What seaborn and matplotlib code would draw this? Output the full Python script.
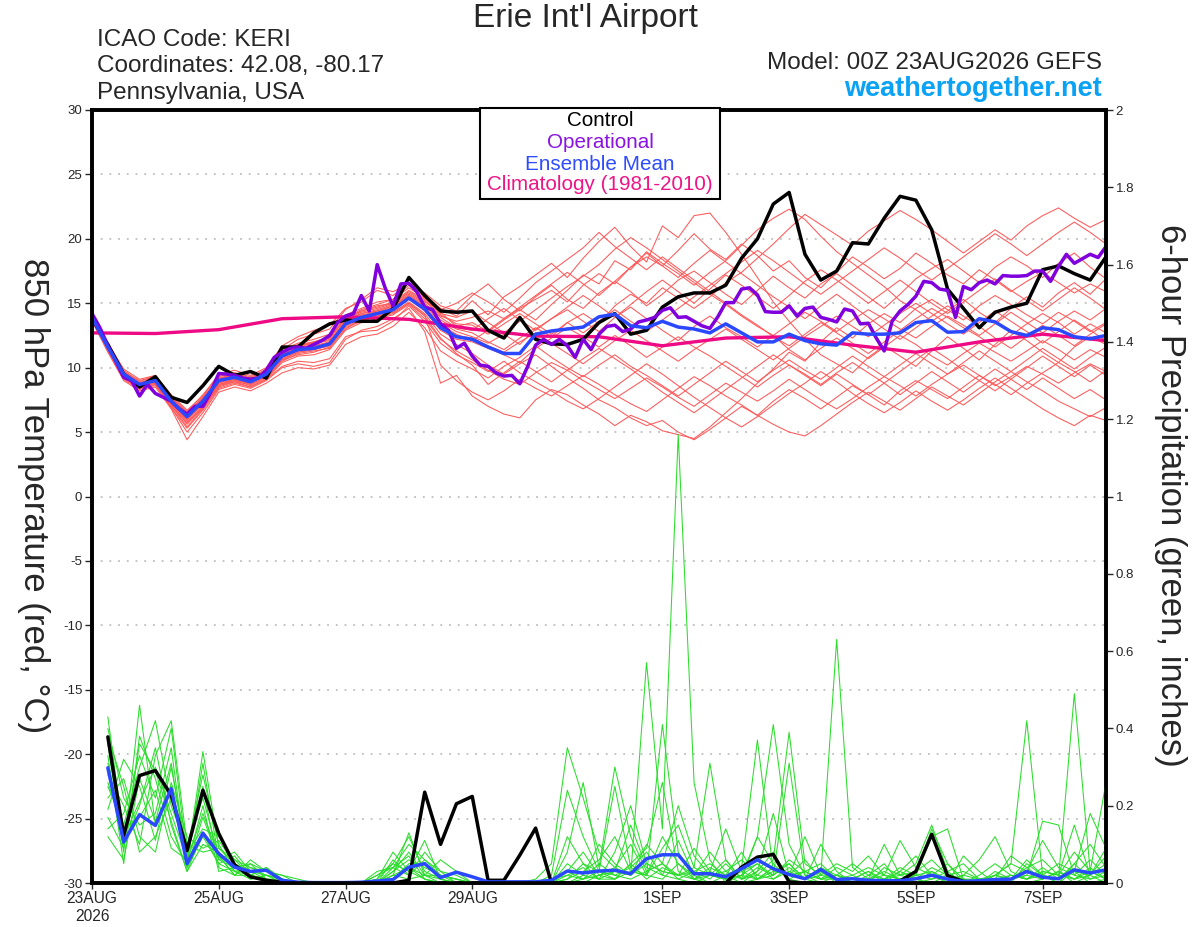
import numpy as np
import pandas as pd
import matplotlib
matplotlib.use("Agg")
import matplotlib.pyplot as plt
import seaborn as sns
from matplotlib.patches import Rectangle

# ---------------- data ----------------
hours6 = list(range(0, 385, 6))         # 65 points, 6-hourly
hours3 = list(range(0, 385, 3))         # 129 points, 3-hourly (operational)
hours_precip = list(range(6, 385, 6))   # 64 points
hours_clim = list(range(0, 385, 24))    # 17 points

control_temp = [13.8, 11.8, 9.5, 8.5, 9.3, 7.7, 7.3, 8.6, 10.1, 9.4,
                9.7, 9.2, 11.6, 11.6, 12.7, 13.4, 13.7, 13.6, 13.6, 14.6,
                17.0, 15.6, 14.4, 14.3, 14.4, 12.9, 12.3, 13.9, 12.2, 11.85,
                11.8, 12.2, 13.5, 14.2, 12.6, 12.9, 14.7, 15.5, 15.8, 15.8,
                16.4, 18.5, 20.0, 22.7, 23.6, 18.8, 16.8, 17.5, 19.7, 19.6,
                21.6, 23.3, 23.0, 20.7, 16.1, 14.6, 13.1, 14.3, 14.7, 15.0,
                17.6, 17.9, 17.3, 16.8, 18.6]

mean_temp = [13.9, 11.6, 9.5, 8.7, 9.0, 7.4, 6.2, 7.4, 9.0, 9.25,
             8.9, 9.5, 10.9, 11.4, 11.5, 11.85, 13.4, 13.9, 14.2, 14.5,
             15.4, 14.55, 13.1, 12.4, 12.2, 11.6, 11.1, 11.1, 12.6, 12.85,
             13.0, 13.15, 13.95, 14.15, 13.25, 13.1, 13.6, 13.15, 13.0, 12.7,
             13.4, 12.7, 12.0, 12.0, 12.6, 12.1, 11.85, 11.75, 12.7, 12.6,
             12.6, 12.7, 13.5, 13.65, 12.75, 12.8, 13.8, 13.55, 12.8, 12.5,
             13.1, 12.95, 12.4, 12.25, 12.5]

oper_temp = [14.2, 13.1, 11.7, 10.5, 9.25, 9.0, 7.8, 8.7, 8.0, 7.7,
             7.4, 6.8, 6.4, 7.0, 7.0, 8.1, 9.55, 9.5, 9.4, 9.2,
             9.1, 9.2, 9.8, 10.8, 11.2, 11.5, 11.6, 11.5, 11.8, 12.1,
             12.5, 13.5, 14.0, 14.2, 15.6, 14.4, 18.0, 16.2, 14.8, 16.5,
             16.55, 15.9, 14.7, 14.5, 13.4, 12.9, 11.5, 11.9, 10.9, 10.2,
             10.1, 9.6, 9.35, 9.4, 8.75, 10.1, 11.75, 12.2, 11.8, 12.2,
             11.7, 10.8, 12.2, 11.4, 12.6, 13.2, 13.3, 12.8, 13.0, 13.55,
             13.7, 13.9, 14.45, 14.65, 13.9, 13.95, 13.6, 13.25, 13.05, 13.95,
             15.05, 15.05, 16.1, 16.2, 15.65, 14.35, 14.3, 14.3, 14.8, 14.0,
             14.6, 14.7, 13.9, 13.75, 13.55, 14.55, 14.4, 13.4, 13.45, 12.3,
             11.3, 13.6, 14.4, 14.9, 15.55, 16.7, 16.6, 16.1, 16.0, 13.9,
             16.3, 16.05, 16.6, 16.8, 16.5, 17.15, 17.1, 17.1, 17.15, 17.5,
             17.5, 16.7, 17.85, 18.8, 18.1, 18.45, 18.8, 18.55, 19.4]

clim_temp = [12.7, 12.65, 12.95, 13.8, 13.95, 13.75, 13.0, 12.45, 12.4,
             11.7, 12.3, 12.4, 11.75, 11.2, 12.0, 12.6, 12.1]

temp_members = [
    [14.0, 11.8, 9.8, 8.9, 9.4, 7.8, 6.6, 7.9, 9.4, 9.6, 9.3, 9.8, 11.3, 11.8, 12.0, 12.3, 13.8, 14.4, 14.8, 15.0,
     15.9, 15.2, 14.0, 13.6, 13.9, 14.4, 13.8, 14.6, 15.3, 16.0, 15.1, 16.4, 17.3, 16.5, 17.8, 18.6, 17.9, 19.1, 20.4, 19.2,
     18.4, 19.6, 18.7, 17.5, 18.3, 17.0, 16.2, 17.4, 18.6, 17.8, 16.9, 17.7, 18.9, 18.1, 17.2, 16.5, 17.6, 16.8, 15.9, 16.7,
     17.4, 16.6, 15.8, 16.5, 15.9],
    [13.7, 11.4, 9.2, 8.4, 8.6, 7.0, 5.7, 6.9, 8.5, 8.9, 8.5, 9.1, 10.4, 10.9, 11.0, 11.4, 12.9, 13.5, 13.8, 14.1,
     14.9, 13.8, 12.2, 11.3, 10.6, 9.8, 9.1, 8.7, 9.6, 10.4, 9.8, 9.0, 8.3, 7.6, 8.4, 9.2, 8.5, 7.7, 7.0, 7.9,
     8.8, 8.1, 7.4, 8.2, 9.1, 8.3, 7.5, 6.8, 7.6, 8.5, 9.3, 8.6, 7.8, 8.7, 9.5, 10.2, 9.4, 8.6, 9.3, 10.1,
     9.5, 8.8, 9.6, 10.3, 9.7],
    [14.1, 11.7, 9.6, 8.8, 9.1, 7.3, 5.9, 7.2, 8.8, 9.3, 9.1, 9.7, 11.4, 12.2, 12.6, 13.0, 14.5, 15.3, 16.2, 15.9,
     16.5, 15.6, 14.6, 14.0, 15.2, 14.1, 15.5, 16.3, 17.2, 18.1, 17.0, 18.5, 19.8, 20.9, 19.4, 18.2, 21.0, 20.1, 21.8, 22.0,
     20.5, 18.8, 17.0, 15.1, 13.6, 12.2, 11.0, 10.3, 9.6, 10.8, 11.7, 10.9, 10.1, 11.3, 12.4, 11.5, 10.6, 11.8, 12.9, 12.1,
     11.2, 10.4, 11.6, 12.4, 11.8],
    [13.8, 11.5, 9.3, 8.5, 8.8, 6.9, 5.0, 6.5, 8.3, 8.7, 8.4, 9.0, 10.0, 10.3, 10.1, 10.4, 12.2, 12.9, 13.2, 13.8,
     14.6, 12.8, 8.8, 9.4, 7.8, 7.0, 6.4, 6.1, 7.5, 8.3, 7.9, 7.1, 6.4, 5.5, 6.3, 5.8, 5.1, 4.8, 4.5, 5.4,
     6.5, 7.6, 8.8, 9.9, 11.2, 10.5, 12.0, 13.1, 12.3, 13.4, 14.2, 13.5, 14.6, 15.3, 14.5, 13.7, 14.8, 15.6, 14.9, 14.1,
     13.4, 14.3, 13.6, 12.8, 13.5],
    [13.9, 11.6, 9.4, 8.6, 8.9, 7.5, 6.3, 7.6, 9.1, 9.5, 9.0, 9.4, 10.8, 11.3, 11.6, 12.0, 13.5, 14.1, 14.3, 14.7,
     15.5, 14.8, 13.5, 12.8, 12.4, 11.9, 12.6, 11.8, 13.0, 13.8, 14.5, 13.6, 12.8, 13.9, 14.7, 13.8, 12.9, 12.1, 13.2, 14.0,
     13.1, 12.4, 11.6, 12.5, 11.4, 10.6, 11.5, 12.3, 11.5, 10.7, 11.6, 12.5, 11.8, 10.9, 10.2, 11.1, 11.9, 11.2, 10.5, 11.3,
     12.1, 11.4, 10.6, 11.4, 10.8],
    [14.0, 11.9, 9.7, 9.0, 9.3, 7.6, 6.0, 7.1, 8.7, 9.0, 8.8, 9.5, 11.0, 11.5, 11.8, 12.2, 13.9, 14.5, 14.9, 15.3,
     16.2, 15.4, 14.3, 13.2, 13.5, 12.8, 13.7, 14.5, 13.7, 14.9, 16.0, 17.2, 16.5, 18.3, 17.6, 19.0, 18.1, 17.3, 16.4, 17.4,
     18.3, 19.5, 20.7, 21.6, 22.3, 21.5, 20.2, 19.0, 18.1, 17.2, 16.3, 15.2, 14.5, 13.6, 14.4, 15.3, 14.3, 13.5, 14.6, 15.5,
     14.7, 15.8, 16.6, 15.7, 16.9],
    [13.8, 11.3, 9.1, 8.3, 8.7, 7.1, 5.4, 6.8, 8.6, 9.0, 8.6, 9.2, 10.5, 11.1, 11.3, 11.5, 13.1, 13.6, 14.0, 14.3,
     15.1, 14.2, 12.6, 11.8, 11.1, 10.2, 9.5, 10.3, 11.0, 10.1, 9.2, 8.4, 7.5, 6.9, 6.1, 5.5, 5.9, 5.0, 4.4, 5.2,
     6.1, 7.0, 6.3, 7.4, 8.3, 7.6, 6.8, 7.7, 8.6, 7.9, 7.1, 8.2, 9.0, 8.3, 7.6, 8.5, 9.4, 8.7, 7.9, 8.8,
     9.6, 10.4, 9.7, 8.9, 9.8],
    [14.2, 11.9, 9.9, 9.1, 9.4, 7.9, 6.7, 7.8, 9.5, 9.8, 9.4, 10.0, 11.7, 12.4, 12.9, 13.3, 14.6, 15.1, 16.0, 15.6,
     16.6, 15.8, 14.8, 14.4, 15.6, 16.5, 15.3, 14.4, 15.5, 16.4, 15.3, 14.6, 15.8, 16.7, 15.9, 14.8, 15.7, 16.8, 17.5, 16.6,
     15.7, 14.9, 16.0, 17.1, 16.2, 15.4, 16.5, 17.3, 16.4, 15.5, 14.6, 15.7, 16.9, 17.7, 18.4, 17.5, 16.6, 17.8, 18.6, 17.9,
     17.0, 18.1, 18.9, 17.8, 16.9],
    [13.6, 11.2, 9.0, 8.2, 8.5, 6.8, 4.4, 6.2, 8.1, 8.5, 8.2, 8.8, 9.6, 10.0, 9.9, 10.2, 11.8, 12.4, 12.6, 13.2,
     14.3, 13.1, 11.3, 10.5, 9.9, 9.2, 10.1, 10.8, 11.7, 10.8, 10.0, 9.3, 10.2, 11.0, 10.1, 9.4, 8.6, 7.8, 8.7, 9.6,
     10.5, 9.7, 8.9, 9.8, 10.6, 9.8, 9.1, 10.0, 10.9, 10.1, 9.3, 10.2, 11.1, 10.3, 9.5, 10.4, 11.3, 10.5, 9.7, 10.6,
     11.5, 10.7, 9.9, 10.8, 11.6],
    [14.0, 11.7, 9.5, 8.7, 9.2, 7.6, 6.4, 7.5, 9.2, 9.4, 9.0, 9.6, 11.0, 11.6, 11.9, 12.1, 13.6, 14.0, 14.4, 14.8,
     15.6, 14.9, 13.7, 13.0, 12.7, 12.0, 11.4, 12.3, 13.1, 12.4, 13.5, 14.2, 13.4, 14.8, 15.7, 15.0, 16.2, 15.4, 14.6, 15.5,
     16.6, 17.4, 18.5, 19.6, 20.8, 21.9, 21.1, 20.3, 19.5, 20.6, 21.4, 22.2, 21.5, 20.7, 19.8, 18.9, 19.8, 20.7, 19.9, 21.0,
     21.8, 22.4, 21.6, 20.9, 21.5],
    [13.9, 11.5, 9.4, 8.6, 8.9, 7.3, 6.1, 7.4, 8.9, 9.2, 8.9, 9.5, 10.7, 11.2, 11.4, 11.7, 13.3, 13.8, 14.1, 14.4,
     15.3, 14.4, 12.9, 12.2, 12.0, 11.5, 11.0, 10.4, 11.5, 12.3, 13.1, 12.4, 11.6, 12.5, 11.7, 10.8, 11.6, 12.4, 11.6, 10.9,
     10.1, 9.3, 8.5, 9.4, 10.2, 9.5, 8.7, 9.6, 10.4, 9.6, 8.8, 7.9, 8.8, 9.7, 8.9, 8.1, 9.0, 9.9, 9.1, 8.3,
     9.2, 8.4, 7.6, 8.3, 7.5],
    [14.1, 11.8, 9.7, 8.8, 9.3, 7.7, 6.5, 7.7, 9.3, 9.6, 9.2, 9.9, 11.4, 11.9, 12.2, 12.6, 14.1, 14.6, 15.1, 15.3,
     16.4, 15.5, 14.2, 13.9, 14.4, 13.5, 12.7, 13.6, 14.5, 15.4, 16.3, 17.1, 18.0, 19.2, 20.1, 19.3, 18.4, 17.5, 16.6, 15.7,
     14.9, 14.0, 13.2, 12.5, 13.4, 14.3, 13.6, 12.8, 13.7, 14.5, 13.8, 13.0, 12.3, 13.2, 14.0, 13.3, 12.5, 13.4, 14.3, 13.5,
     12.7, 13.6, 14.4, 13.7, 14.6],
    [13.7, 11.4, 9.3, 8.5, 8.8, 7.2, 5.8, 7.0, 8.7, 9.1, 8.7, 9.3, 10.6, 11.0, 11.2, 11.6, 13.0, 13.7, 13.9, 14.2,
     15.0, 14.1, 10.2, 9.0, 8.1, 7.5, 8.2, 9.1, 8.4, 7.8, 8.6, 9.4, 8.7, 7.9, 7.2, 6.6, 7.5, 8.4, 9.3, 8.6,
     7.8, 7.1, 6.3, 5.6, 5.0, 4.7, 5.5, 6.4, 7.3, 8.1, 7.4, 6.7, 7.6, 8.5, 7.8, 7.1, 8.0, 8.9, 9.7, 8.9,
     8.2, 7.4, 6.8, 6.2, 6.9],
    [14.0, 11.6, 9.6, 8.8, 9.0, 7.4, 6.2, 7.3, 8.9, 9.3, 9.1, 9.7, 11.2, 11.7, 11.9, 12.3, 13.8, 14.3, 14.6, 15.0,
     15.8, 15.1, 14.5, 15.0, 15.8, 15.1, 14.3, 15.4, 16.6, 17.5, 18.4, 19.3, 20.5, 19.4, 18.5, 17.6, 18.6, 17.7, 16.8, 15.9,
     15.0, 14.1, 13.3, 12.4, 11.7, 12.6, 13.5, 12.7, 11.9, 11.1, 12.0, 12.9, 13.8, 14.6, 13.9, 13.1, 12.4, 11.6, 12.5, 13.4,
     14.2, 13.5, 12.6, 13.4, 12.7],
    [13.8, 11.6, 9.5, 8.6, 8.9, 7.2, 5.6, 6.9, 8.6, 8.9, 8.7, 9.3, 10.6, 11.2, 11.4, 11.7, 13.2, 13.7, 14.0, 14.3,
     15.0, 14.0, 12.3, 11.1, 10.2, 8.7, 9.6, 10.5, 9.7, 8.9, 9.8, 10.7, 11.5, 10.7, 9.9, 9.0, 8.1, 7.3, 6.5, 7.4,
     8.3, 9.2, 10.1, 11.0, 10.2, 9.4, 8.6, 9.5, 8.7, 7.9, 8.8, 9.7, 10.6, 11.5, 10.7, 9.8, 9.0, 8.2, 9.1, 10.0,
     10.9, 10.1, 9.3, 10.2, 9.4],
    [13.9, 11.7, 9.6, 8.7, 9.1, 7.5, 6.3, 7.5, 9.1, 9.4, 9.0, 9.6, 11.1, 11.5, 11.7, 12.0, 13.7, 14.2, 14.5, 14.9,
     15.7, 15.0, 13.9, 13.1, 12.9, 13.8, 14.6, 13.7, 12.9, 13.8, 14.7, 15.6, 14.8, 13.9, 14.9, 15.9, 16.8, 15.9, 15.0, 16.1,
     17.2, 16.4, 15.5, 14.6, 15.6, 16.7, 17.6, 16.8, 15.9, 15.0, 15.9, 16.8, 15.9, 15.0, 14.2, 15.1, 16.0, 16.9, 16.0, 15.2,
     14.4, 15.3, 16.2, 15.4, 14.5],
    [13.8, 11.5, 9.4, 8.6, 8.9, 7.3, 6.0, 7.2, 8.8, 9.1, 8.8, 9.4, 10.8, 11.3, 11.5, 11.9, 13.4, 13.9, 14.2, 14.6,
     15.4, 14.6, 13.2, 12.5, 12.3, 11.7, 11.2, 12.0, 12.7, 11.9, 11.1, 10.3, 11.2, 12.1, 12.9, 12.1, 11.3, 10.5, 11.4, 12.2,
     13.0, 12.2, 11.4, 10.6, 11.5, 12.4, 13.2, 14.0, 13.2, 12.4, 13.3, 14.2, 15.0, 14.2, 13.4, 12.6, 13.5, 14.4, 13.6, 12.8,
     11.9, 12.8, 13.7, 12.9, 12.1],
    [14.1, 11.6, 9.6, 8.7, 9.1, 7.6, 6.5, 7.6, 9.2, 9.5, 9.1, 9.7, 11.2, 11.7, 12.0, 12.4, 13.9, 14.4, 14.7, 15.1,
     16.0, 15.3, 14.1, 13.4, 13.3, 12.6, 13.4, 14.2, 13.4, 12.6, 13.5, 12.7, 13.6, 14.5, 13.6, 12.8, 13.7, 14.6, 15.5, 16.4,
     17.3, 18.2, 19.1, 18.3, 17.4, 16.5, 15.7, 16.6, 17.5, 18.4, 19.3, 18.5, 17.6, 16.8, 17.7, 18.6, 19.5, 20.4, 19.6, 18.7,
     19.6, 20.5, 21.3, 20.5, 19.6],
    [13.7, 11.4, 9.2, 8.4, 8.7, 6.9, 5.3, 6.7, 8.4, 8.8, 8.5, 9.1, 10.1, 10.5, 10.4, 10.7, 12.4, 12.8, 12.9, 13.6,
     14.8, 13.6, 11.9, 11.0, 10.4, 9.7, 10.5, 9.6, 8.9, 8.2, 7.4, 6.8, 7.6, 8.5, 9.4, 10.3, 9.5, 8.6, 7.7, 6.9,
     6.1, 5.4, 6.2, 7.1, 8.0, 8.8, 9.7, 8.9, 8.0, 7.2, 6.5, 7.3, 8.2, 7.4, 6.7, 7.5, 8.4, 9.2, 8.4, 7.6,
     6.8, 6.1, 5.5, 6.3, 5.9],
    [14.0, 11.7, 9.5, 8.8, 9.2, 7.5, 6.4, 7.6, 9.0, 9.3, 9.0, 9.6, 11.0, 11.4, 11.6, 11.9, 13.6, 14.2, 14.4, 14.8,
     15.6, 14.7, 13.3, 12.6, 12.1, 12.9, 13.8, 14.7, 15.6, 16.5, 17.4, 16.5, 15.6, 16.7, 17.8, 18.9, 17.9, 17.0, 18.1, 19.1,
     18.2, 17.3, 16.4, 15.5, 14.7, 13.8, 14.8, 15.7, 14.8, 13.9, 13.0, 12.2, 13.1, 14.0, 14.8, 14.0, 13.2, 12.3, 11.5, 12.4,
     13.3, 12.5, 11.7, 12.6, 13.4],
]

control_precip = [0.378, 0.123, 0.278, 0.291, 0.227, 0.084, 0.240, 0.128,
                  0.047, 0.016, 0.007, 0.002, 0, 0, 0, 0,
                  0, 0, 0, 0.007, 0.235, 0.100, 0.205, 0.224,
                  0.007, 0.007, 0.072, 0.142, 0, 0, 0, 0,
                  0, 0, 0, 0, 0, 0, 0, 0,
                  0.041, 0.067, 0.074, 0.003, 0, 0, 0, 0,
                  0, 0, 0.005, 0.030, 0.126, 0.019, 0.004, 0,
                  0, 0, 0, 0, 0, 0, 0, 0]

mean_precip = [0.298, 0.106, 0.177, 0.149, 0.244, 0.050, 0.129, 0.076,
               0.041, 0.030, 0.033, 0.007, 0.002, 0.001, 0.001, 0.001,
               0.002, 0.005, 0.009, 0.041, 0.050, 0.014, 0.028, 0.016,
               0.003, 0.003, 0.003, 0.003, 0.007, 0.031, 0.026, 0.031,
               0.033, 0.024, 0.063, 0.073, 0.073, 0.024, 0.024, 0.016,
               0.037, 0.060, 0.037, 0.022, 0.011, 0.035, 0.009, 0.011,
               0.007, 0.006, 0.006, 0.011, 0.020, 0.010, 0.004, 0.006,
               0.009, 0.010, 0.030, 0.015, 0.011, 0.034, 0.026, 0.034]

precip_members = [
    [0.43, 0.12, 0.21, 0.30, 0.18, 0.06, 0.34, 0.09, 0.05, 0.03, 0.02, 0.01, 0, 0, 0, 0,
     0, 0, 0.04, 0.10, 0.06, 0.02, 0.01, 0, 0, 0, 0, 0.01, 0.05, 0.35, 0.22, 0.08,
     0.04, 0.10, 0.02, 0.01, 0.05, 0.02, 0, 0, 0, 0.03, 0.08, 0.01, 0, 0, 0.02, 0,
     0, 0, 0, 0.02, 0.14, 0.05, 0, 0, 0, 0.01, 0.03, 0.02, 0, 0.05, 0.10, 0.04],
    [0.36, 0.08, 0.46, 0.15, 0.25, 0.04, 0.12, 0.05, 0.07, 0.02, 0.04, 0.01, 0, 0, 0, 0,
     0, 0.01, 0.08, 0.03, 0.01, 0, 0, 0, 0, 0, 0, 0, 0, 0.08, 0.26, 0.04,
     0.30, 0.12, 0.03, 0.05, 0.01, 0, 0.02, 0.06, 0.01, 0.12, 0.41, 0.10, 0.02, 0, 0, 0.01,
     0.03, 0, 0.01, 0, 0.03, 0, 0, 0, 0.02, 0.05, 0.42, 0.02, 0, 0.03, 0, 0.01],
    [0.28, 0.20, 0.10, 0.33, 0.42, 0.10, 0.22, 0.07, 0.02, 0.05, 0.01, 0, 0, 0, 0, 0,
     0, 0, 0.02, 0.13, 0.02, 0.06, 0.03, 0, 0, 0, 0, 0, 0, 0, 0.02, 0.10,
     0.05, 0.02, 0.57, 0.14, 1.16, 0.26, 0.06, 0, 0.02, 0.05, 0.01, 0.04, 0.01, 0, 0, 0,
     0, 0.01, 0, 0, 0, 0.02, 0, 0, 0, 0, 0, 0.01, 0.03, 0, 0.02, 0],
    [0.19, 0.32, 0.25, 0.11, 0.30, 0.08, 0.14, 0.12, 0.06, 0.04, 0.03, 0.02, 0.01, 0, 0, 0,
     0, 0.02, 0.05, 0.03, 0.11, 0.01, 0, 0, 0, 0, 0, 0, 0.02, 0.24, 0.12, 0.03,
     0.25, 0.04, 0.02, 0.41, 0.08, 0.01, 0, 0.02, 0.04, 0.37, 0.03, 0.05, 0.01, 0.03, 0, 0,
     0.02, 0.05, 0, 0.01, 0, 0, 0.07, 0.03, 0, 0.01, 0.02, 0.16, 0.15, 0.02, 0.01, 0.03],
    [0.33, 0.05, 0.38, 0.27, 0.12, 0.05, 0.20, 0.03, 0.04, 0.02, 0.01, 0, 0, 0, 0, 0,
     0, 0, 0.01, 0.04, 0.02, 0, 0, 0, 0, 0, 0, 0, 0, 0, 0.01, 0.05,
     0.02, 0.01, 0.03, 0.05, 0.02, 0.04, 0.31, 0.06, 0.01, 0.02, 0.06, 0.39, 0.05, 0.02, 0.63, 0.04,
     0.01, 0.10, 0.02, 0.05, 0.15, 0.03, 0, 0, 0.01, 0, 0.05, 0.02, 0.01, 0.49, 0.03, 0.01],
    [0.25, 0.15, 0.30, 0.42, 0.20, 0.09, 0.28, 0.10, 0.03, 0.01, 0.02, 0.01, 0, 0, 0, 0,
     0, 0, 0.03, 0.06, 0.04, 0.02, 0.01, 0, 0, 0, 0, 0, 0, 0.02, 0.04, 0.01,
     0.03, 0.15, 0.04, 0.02, 0.01, 0.03, 0.05, 0.02, 0, 0.01, 0.04, 0.02, 0.01, 0.10, 0.03, 0,
     0.01, 0.02, 0.11, 0.04, 0.02, 0, 0.02, 0.06, 0.12, 0.03, 0.01, 0.02, 0.05, 0.03, 0.18, 0.09],
    [0.40, 0.22, 0.15, 0.18, 0.35, 0.04, 0.17, 0.06, 0.08, 0.03, 0.01, 0, 0, 0, 0, 0,
     0, 0.01, 0.05, 0.12, 0.03, 0.01, 0, 0, 0, 0, 0, 0, 0.01, 0.03, 0.08, 0.02,
     0.01, 0.05, 0.09, 0.26, 0.03, 0.01, 0.02, 0.01, 0.03, 0.05, 0.02, 0.31, 0.02, 0.01, 0.04, 0.02,
     0, 0.01, 0.04, 0.02, 0.12, 0.14, 0.01, 0, 0.03, 0.01, 0.04, 0.06, 0.02, 0.01, 0.03, 0.26],
    [0.14, 0.18, 0.33, 0.22, 0.40, 0.07, 0.25, 0.04, 0.02, 0.06, 0.03, 0.01, 0, 0, 0, 0,
     0, 0, 0.06, 0.02, 0.08, 0.03, 0, 0, 0, 0, 0, 0, 0, 0.01, 0.03, 0.06,
     0.12, 0.03, 0.02, 0.09, 0.15, 0.04, 0.02, 0.03, 0.06, 0.02, 0.01, 0.03, 0.01, 0.04, 0.02, 0.01,
     0, 0.04, 0.02, 0.01, 0.02, 0.05, 0.01, 0, 0.02, 0.05, 0.03, 0.11, 0.04, 0.02, 0.06, 0.02],
    [0.31, 0.10, 0.20, 0.35, 0.15, 0.03, 0.10, 0.08, 0.03, 0.02, 0.01, 0, 0, 0, 0, 0,
     0, 0, 0.02, 0.01, 0.02, 0.02, 0.01, 0, 0, 0, 0, 0, 0, 0.12, 0.05, 0.01,
     0.08, 0.20, 0.05, 0.03, 0.02, 0.01, 0.03, 0.14, 0.03, 0.01, 0.02, 0.05, 0.01, 0.02, 0.05, 0.03,
     0.07, 0.02, 0.01, 0, 0.01, 0.03, 0.05, 0.01, 0, 0.02, 0.01, 0.03, 0.02, 0.15, 0.02, 0.05],
    [0.22, 0.27, 0.12, 0.08, 0.26, 0.12, 0.09, 0.11, 0.05, 0.01, 0.02, 0.01, 0, 0, 0, 0,
     0, 0.03, 0.04, 0.07, 0.01, 0, 0, 0, 0, 0, 0, 0, 0, 0, 0, 0.02,
     0.04, 0.02, 0.10, 0.05, 0.20, 0.07, 0.02, 0.01, 0.02, 0.12, 0.05, 0.01, 0.03, 0.01, 0.02, 0.05,
     0.02, 0.01, 0.03, 0.07, 0.02, 0.01, 0, 0.02, 0.05, 0.02, 0.01, 0.04, 0.01, 0.03, 0.02, 0.07],
    [0.12, 0.06, 0.27, 0.16, 0.31, 0.05, 0.31, 0.06, 0.04, 0.05, 0.03, 0.02, 0, 0, 0, 0,
     0, 0, 0.03, 0.08, 0.02, 0.01, 0, 0, 0, 0, 0, 0, 0.01, 0.02, 0.01, 0.03,
     0.02, 0.04, 0.08, 0.02, 0.11, 0.02, 0.08, 0.03, 0.01, 0.03, 0.18, 0.02, 0.06, 0.01, 0.01, 0.01,
     0.03, 0.01, 0.02, 0.03, 0.06, 0.02, 0.01, 0.01, 0.01, 0.07, 0.04, 0.01, 0.03, 0.01, 0.04, 0.01],
    [0.26, 0.14, 0.17, 0.24, 0.09, 0.06, 0.18, 0.07, 0.02, 0.02, 0.04, 0.01, 0, 0, 0, 0,
     0, 0, 0.01, 0.05, 0.05, 0.02, 0, 0, 0, 0, 0, 0, 0, 0.05, 0.02, 0.01,
     0.01, 0.03, 0.02, 0.12, 0.05, 0.01, 0.04, 0.02, 0.08, 0.01, 0.03, 0.02, 0.12, 0.02, 0.01, 0,
     0.01, 0.03, 0.01, 0.02, 0.01, 0.02, 0.03, 0.01, 0.02, 0.01, 0.06, 0.02, 0.01, 0.05, 0.01, 0.02],
    [0.38, 0.25, 0.08, 0.12, 0.22, 0.10, 0.08, 0.09, 0.06, 0.02, 0.01, 0.01, 0, 0, 0, 0,
     0, 0.02, 0.04, 0.02, 0.06, 0.03, 0.02, 0, 0, 0, 0, 0, 0, 0.03, 0.01, 0.02,
     0.03, 0.02, 0.05, 0.03, 0.02, 0.09, 0.03, 0.01, 0.02, 0.01, 0.04, 0.02, 0.03, 0.05, 0.01, 0.02,
     0.04, 0.02, 0.01, 0.02, 0.03, 0.01, 0.02, 0.01, 0.01, 0.02, 0.01, 0.03, 0.02, 0.08, 0.03, 0.01],
    [0.17, 0.09, 0.36, 0.29, 0.16, 0.03, 0.13, 0.05, 0.03, 0.04, 0.02, 0, 0, 0, 0, 0,
     0, 0, 0.02, 0.04, 0.01, 0, 0, 0, 0, 0, 0, 0, 0, 0.01, 0.05, 0.03,
     0.01, 0.05, 0.01, 0.04, 0.02, 0.03, 0.01, 0.05, 0.01, 0.04, 0.02, 0.06, 0.03, 0.01, 0.02, 0.01,
     0.01, 0, 0.03, 0.01, 0.04, 0.02, 0.01, 0, 0.02, 0.01, 0.02, 0.01, 0.03, 0.01, 0.02, 0.09],
]

xtick_hours = [0, 48, 96, 144, 216, 264, 312, 360]
xtick_labels = ["23AUG\n2026", "25AUG", "27AUG", "29AUG", "1SEP", "3SEP", "5SEP", "7SEP"]
temp_ticks = list(range(-30, 31, 5))
precip_ticks = [0, 0.2, 0.4, 0.6, 0.8, 1, 1.2, 1.4, 1.6, 1.8, 2]
precip_tick_labels = ["0", "0.2", "0.4", "0.6", "0.8", "1", "1.2", "1.4", "1.6", "1.8", "2"]

# ---------------- styling ----------------
sns.set_style("white")
plt.rcParams['font.family'] = ['Liberation Sans', 'DejaVu Sans']

C_RED = '#ff5858'
C_GREEN = '#2add2a'
C_OPER = '#7f00dc'
C_MEAN = '#2a48ff'
C_CLIM = '#ee0a84'

fig = plt.figure(figsize=(12, 9.27), dpi=100)
ax = fig.add_axes([92 / 1200, 1 - 883 / 927, (1106 - 92) / 1200, (883 - 110) / 927])

df_tm = pd.DataFrame([(m, h, v) for m, vals in enumerate(temp_members)
                      for h, v in zip(hours6, vals)], columns=['member', 'hour', 'temp'])
df_pm = pd.DataFrame([(m, h, v) for m, vals in enumerate(precip_members)
                      for h, v in zip(hours_precip, vals)], columns=['member', 'hour', 'precip'])

# temperature
sns.lineplot(data=df_tm, x='hour', y='temp', units='member', estimator=None,
             color=C_RED, lw=0.75, ax=ax, legend=False)
sns.lineplot(x=hours_clim, y=clim_temp, color=C_CLIM, lw=2.4, ax=ax)
sns.lineplot(x=hours6, y=control_temp, color='black', lw=2.5, ax=ax)
sns.lineplot(x=hours3, y=oper_temp, color=C_OPER, lw=2.5, ax=ax)
sns.lineplot(x=hours6, y=mean_temp, color=C_MEAN, lw=2.5, ax=ax)

ax.set_xlim(0, 384)
ax.set_ylim(-30, 30)
ax.set_yticks(temp_ticks)
ax.set_yticklabels([str(t) for t in temp_ticks])
ax.set_xticks(xtick_hours)
ax.set_xticklabels(xtick_labels)
ax.set_xlabel('')
ax.set_ylabel('')
for t in [v for v in temp_ticks if -30 < v < 30]:
    ax.axhline(t, color='#b4b4b4', lw=1.1, ls=(0, (1.2, 4.5)), zorder=0.5)
ax.tick_params(axis='y', which='major', direction='out', length=5, width=1,
               labelsize=9.5, pad=2, left=True)
ax.tick_params(axis='x', which='major', direction='out', length=4, width=1,
               labelsize=11.2, pad=2, bottom=True)
for s in ax.spines.values():
    s.set_linewidth(2.6)
    s.set_color('black')

# precipitation on twin axis
ax2 = ax.twinx()
sns.lineplot(data=df_pm, x='hour', y='precip', units='member', estimator=None,
             color=C_GREEN, lw=0.75, ax=ax2, legend=False)
sns.lineplot(x=hours_precip, y=control_precip, color='black', lw=2.5, ax=ax2)
sns.lineplot(x=hours_precip, y=mean_precip, color=C_MEAN, lw=2.5, ax=ax2)
ax2.set_ylim(0, 2)
ax2.set_xlim(0, 384)
ax2.set_yticks(precip_ticks)
ax2.set_yticklabels(precip_tick_labels)
ax2.set_ylabel('')
ax2.set_xlabel('')
ax2.tick_params(axis='y', direction='out', length=5, width=1, labelsize=9.5, pad=2, right=True)
for s in ax2.spines.values():
    s.set_linewidth(2.6)
    s.set_color('black')

# axis titles
fig.text(33 / 1200, 1 - 496 / 927, "850 hPa Temperature (red, \u00b0C)", rotation=270,
         ha='center', va='center', fontsize=25)
fig.text(1171 / 1200, 1 - 495 / 927, "6-hour Precipitation (green, inches)", rotation=270,
         ha='center', va='center', fontsize=25)

# header texts
fig.text(585 / 1200, 1 - 18 / 927, "Erie Int'l Airport", ha='center', va='center', fontsize=24)
fig.text(97 / 1200, 1 - 40 / 927, "ICAO Code: KERI", ha='left', va='center', fontsize=17.5)
fig.text(97 / 1200, 1 - 66 / 927, "Coordinates: 42.08, -80.17", ha='left', va='center', fontsize=17.5)
fig.text(97 / 1200, 1 - 93 / 927, "Pennsylvania, USA", ha='left', va='center', fontsize=17.5)
fig.text(1102 / 1200, 1 - 63 / 927, "Model: 00Z 23AUG2026 GEFS", ha='right', va='center', fontsize=17.5)
fig.text(1102 / 1200, 1 - 89 / 927, "weathertogether.net", ha='right', va='center',
         fontsize=19.5, fontweight='bold', color='#0aa2f5')

# legend box
fig.add_artist(Rectangle((480 / 1200, 1 - 199 / 927), 240 / 1200, 91 / 927,
                         transform=fig.transFigure, facecolor='white', edgecolor='black',
                         lw=1.5, zorder=10))
legend_items = [("Control", 'black', 121), ("Operational", '#8a12e2', 142),
                ("Ensemble Mean", '#2e4cff', 164), ("Climatology (1981-2010)", '#ee1586', 185)]
for txt, col, ypx in legend_items:
    fig.text(600 / 1200, 1 - ypx / 927, txt, ha='center', va='center', fontsize=14.9,
             color=col, zorder=11)

fig.savefig("out.png", dpi=100)
